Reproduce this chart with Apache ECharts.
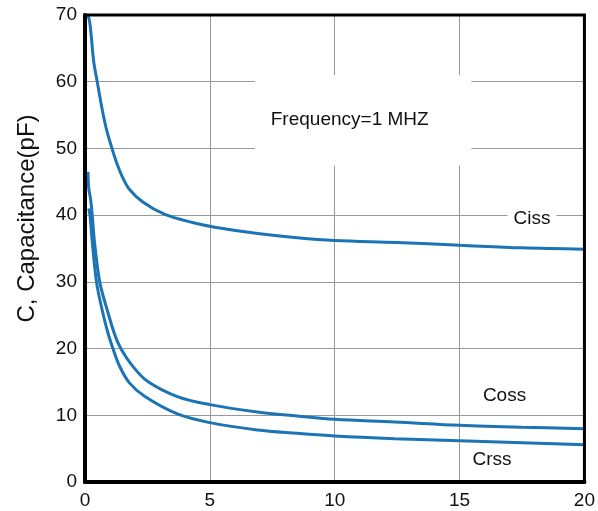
<!DOCTYPE html>
<html>
<head>
<meta charset="utf-8">
<script src="https://cdn.jsdelivr.net/npm/echarts@6/dist/echarts.min.js"></script>
<style>
    html, body { margin: 0; padding: 0; background: #fff; }
    #chart { width: 598px; height: 511px; }
</style>
</head>
<body>
<div id="chart"></div>
<script>
// curves, [Vds, pF]
var cissData = [[0.1,70],[0.16,69.5],[0.22,68],[0.35,63],[0.49,60],[0.68,56],[0.85,53],[1.08,50],[1.3,47.5],[1.5,45.7],[1.75,44],[2.3,42],[3.2,40.1],[4.3,38.9],[5.2,38.2],[7,37.2],[8.5,36.6],[10,36.2],[12.5,35.9],[15,35.5],[17.5,35.1],[20,34.9]];
var cossData = [[0.12,46.5],[0.15,44],[0.22,42.5],[0.29,40],[0.38,36],[0.59,30],[0.88,25.9],[1.2,22],[1.45,19.9],[1.9,17.4],[2.5,15.1],[3.7,12.8],[5,11.6],[6.9,10.5],[8.5,9.9],[10,9.4],[12.4,9.0],[15,8.5],[17.5,8.2],[20,8.0]];
var crssData = [[0.15,41],[0.2,40],[0.29,36],[0.46,30],[0.68,25.9],[0.9,22.6],[1.11,20.1],[1.38,17.4],[1.77,14.9],[2.4,12.8],[3.7,10.2],[5,8.9],[6.9,7.8],[8.5,7.3],[10,6.9],[12.4,6.5],[15,6.2],[17.5,5.9],[20,5.6]];
var seriesNames = ['Ciss', 'Coss', 'Crss'];
// label anchors in data coords
var labelPos = [[17.9, 39.4], [16.8, 12.9], [16.3, 3.3]];
var noteText = 'Frequency=1 MHZ';
var notePos = [10.6, 54.3];
var noteBox = [[6.81, 61.0], [15.47, 47.4]];

var font = 'Liberation Sans, Arial, sans-serif';
var lineColor = '#1c74b4';
var myChart = echarts.init(document.getElementById('chart'));

function makeLine(name, data) {
    return {
        name: name,
        type: 'line',
        data: data,
        smooth: 0.35,
        showSymbol: false,
        lineStyle: { color: lineColor, width: 3 },
        z: 3
    };
}

var option = {
    animation: false,
    grid: {
        left: 85,
        right: 7,
        top: 15,
        bottom: 29,
        show: true,
        borderColor: '#000',
        borderWidth: 3,
        z: 5
    },
    xAxis: {
        type: 'value',
        min: 0,
        max: 20,
        interval: 5,
        axisLine: { show: true, lineStyle: { color: '#000', width: 4 } },
        axisTick: { show: false },
        axisLabel: { color: '#111', fontSize: 19, fontFamily: font, margin: 9 },
        splitLine: { lineStyle: { color: '#999', width: 1 } }
    },
    yAxis: {
        type: 'value',
        min: 0,
        max: 70,
        interval: 10,
        name: 'C, Capacitance(pF)',
        nameLocation: 'middle',
        nameRotate: 90,
        nameGap: 46,
        nameTextStyle: { color: '#111', fontSize: 24, fontFamily: font, padding: [0, 0, 0, 60] },
        axisLine: { show: true, lineStyle: { color: '#000', width: 4 } },
        axisTick: { show: false },
        axisLabel: { color: '#111', fontSize: 19, fontFamily: font, margin: 8 },
        splitLine: { lineStyle: { color: '#999', width: 1 } }
    },
    series: [
        makeLine(seriesNames[0], cissData),
        makeLine(seriesNames[1], cossData),
        makeLine(seriesNames[2], crssData)
    ]
};
myChart.setOption(option);

// annotations placed from data coords
var p1 = myChart.convertToPixel({gridIndex: 0}, noteBox[0]);
var p2 = myChart.convertToPixel({gridIndex: 0}, noteBox[1]);
var pn = myChart.convertToPixel({gridIndex: 0}, notePos);
var elements = [{
    type: 'rect',
    z: 1,
    shape: { x: p1[0], y: p1[1], width: p2[0] - p1[0], height: p2[1] - p1[1] },
    style: { fill: '#fff' }
}, {
    type: 'text',
    z: 4,
    x: pn[0],
    y: pn[1],
    style: { text: noteText, fill: '#111', font: '19px ' + font, align: 'center', verticalAlign: 'middle' }
}];
seriesNames.forEach(function (n, i) {
    var p = myChart.convertToPixel({gridIndex: 0}, labelPos[i]);
    elements.push({
        type: 'text',
        z: 4,
        x: p[0],
        y: p[1],
        style: {
            text: n, fill: '#111', font: '19px ' + font,
            align: 'center', verticalAlign: 'middle',
            backgroundColor: '#fff', padding: [0, 6]
        }
    });
});
myChart.setOption({ graphic: { elements: elements } });
</script>
</body>
</html>
